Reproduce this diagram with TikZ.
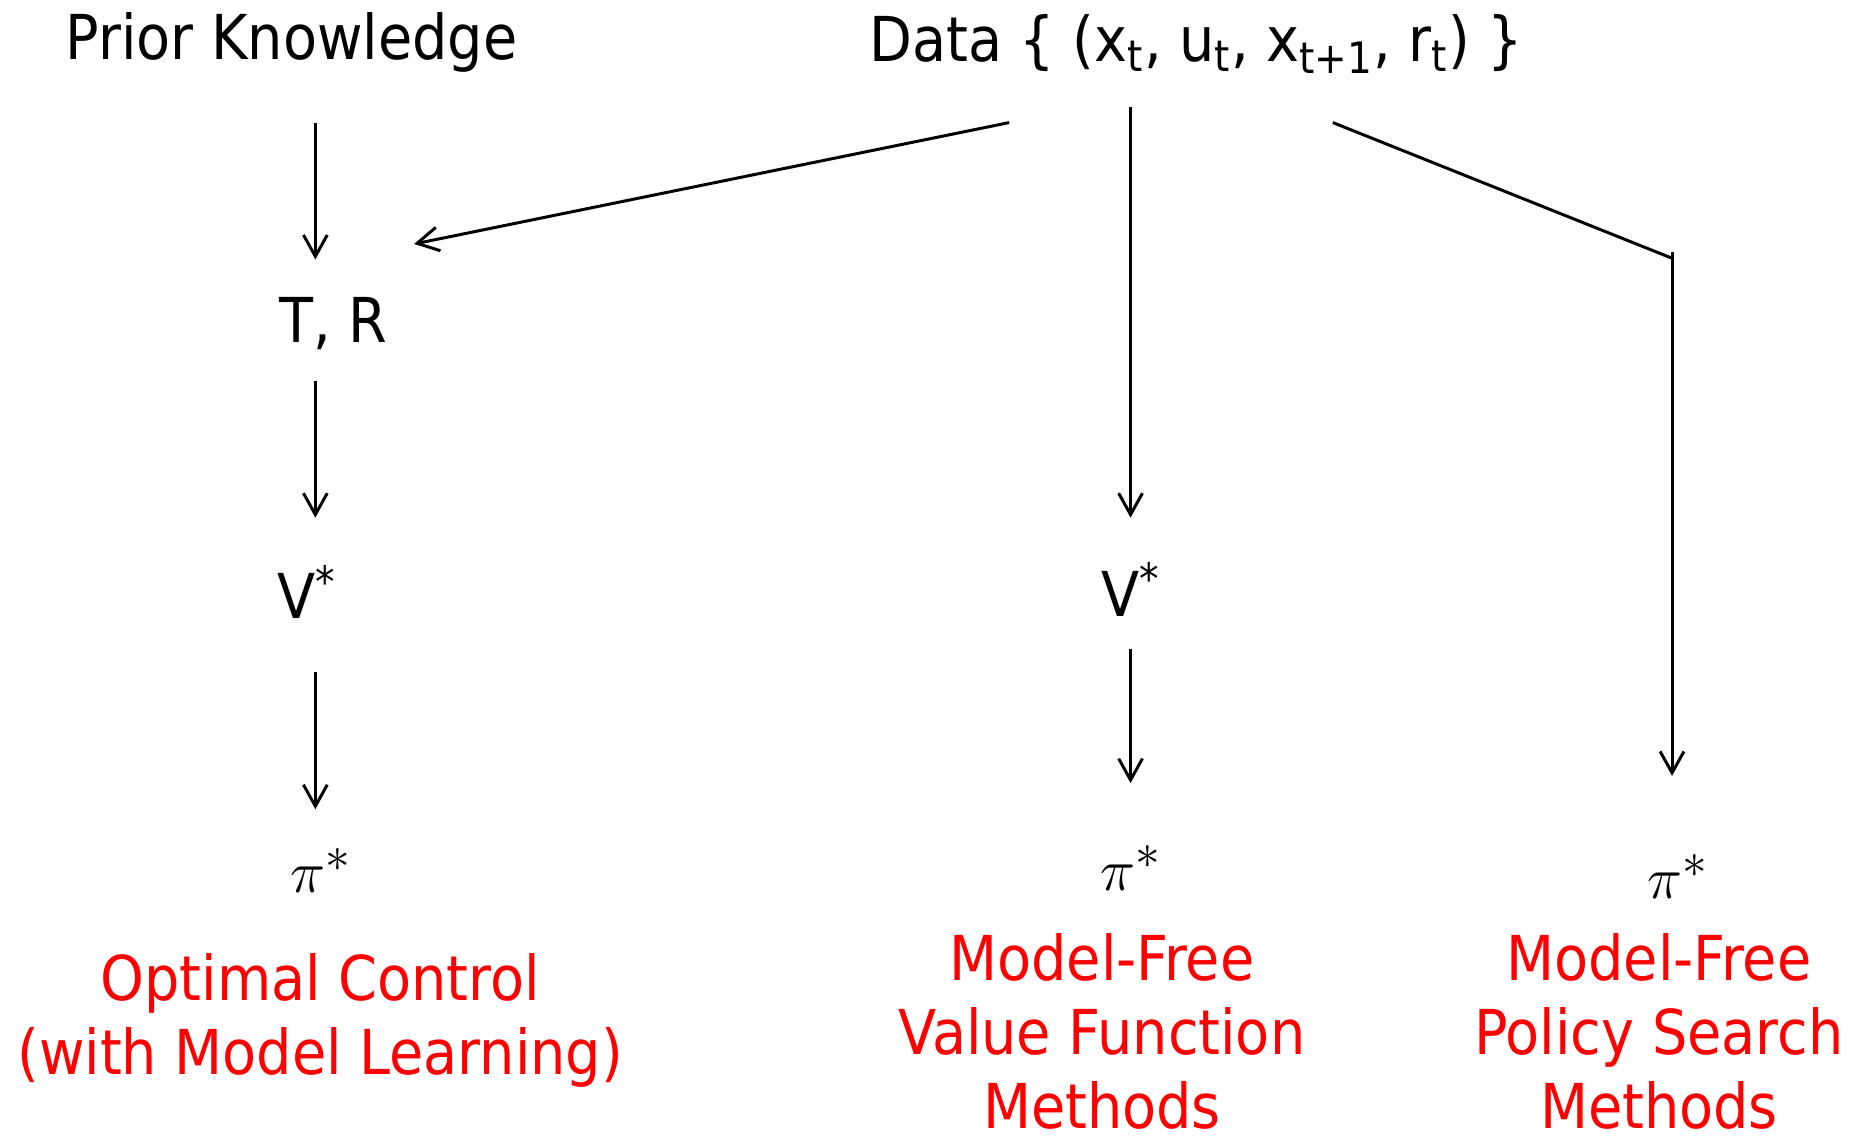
\documentclass[tikz,border=0pt]{standalone}
\usepackage{fontspec}
\setmainfont{DejaVu Sans Condensed}
\usetikzlibrary{arrows.meta,calc}

\begin{document}
\begin{tikzpicture}[x=0.5pt,y=-0.5pt,
    lbl/.style={font=\fontsize{26}{31}\selectfont, inner sep=0pt},
    pol/.style={lbl, font=\fontsize{31}{31}\selectfont, anchor=base},
    note/.style={lbl, text=red, align=center, anchor=north},
    arr/.style={-{Straight Barb[length=9pt,width=10pt]}, line width=1.25pt}]
    \useasboundingbox (0,0) rectangle (1568,960);
    % sources
    \node[lbl, anchor=base] (pk) at (245,50) {Prior Knowledge};
    \node[lbl, anchor=base] (data) at (1005,52)
        {Data \{ (x\textsubscript{t}, u\textsubscript{t}, x\textsubscript{t+1}, r\textsubscript{t}) \}};
    % left column
    \node[lbl, anchor=base] (tr) at (280,288) {T, R};
    \node[lbl, anchor=base] (vl) at (258,520) {V\textsuperscript{*}};
    \node[pol] (pil) at (270,750) {$\pi^{*}$};
    % middle and right columns
    \node[lbl, anchor=base] (vm) at (950,518) {V\textsuperscript{*}};
    \node[pol] (pim) at (950,748) {$\pi^{*}$};
    \node[pol] (pir) at (1410,755) {$\pi^{*}$};
    % method names
    \node[note] (oc) at (269,801) {Optimal Control\\(with Model Learning)};
    \node[note] (vf) at (926,784) {Model-Free\\Value Function\\Methods};
    \node[note] (ps) at (1394,784) {Model-Free\\Policy Search\\Methods};

    \coordinate (colL) at (265,0);
    \coordinate (dl) at ($(data.base)+(-157,51)$);
    \coordinate (dr) at ($(data.base)+(115,51)$);
    \coordinate (bend) at (1405,217);

    % model based chain
    \draw[arr, shorten <=26.5pt, shorten >=35pt] (pk.base -| colL) -- (tr.base -| colL);
    \draw[arr, shorten <=16pt, shorten >=42.5pt] (tr.base -| colL) -- (vl.base -| colL);
    \draw[arr, shorten <=22.5pt, shorten >=35pt] (vl.base -| colL) -- (pil.base -| colL);
    % from the data
    \draw[arr] (dl) -- ([xshift=34pt,yshift=41.5pt]tr.base);
    \draw[arr, shorten <=19pt, shorten >=41.5pt] (data.base -| vm) -- (vm.base);
    \draw[arr, shorten <=13.5pt, shorten >=45pt] (vm.base) -- (pim.base);
    \draw[line width=1.25pt] (dr) -- (bend);
    \draw[arr, shorten >=51.5pt] ([yshift=2.5pt]bend) -- (bend |- pir.base);
\end{tikzpicture}
\end{document}
